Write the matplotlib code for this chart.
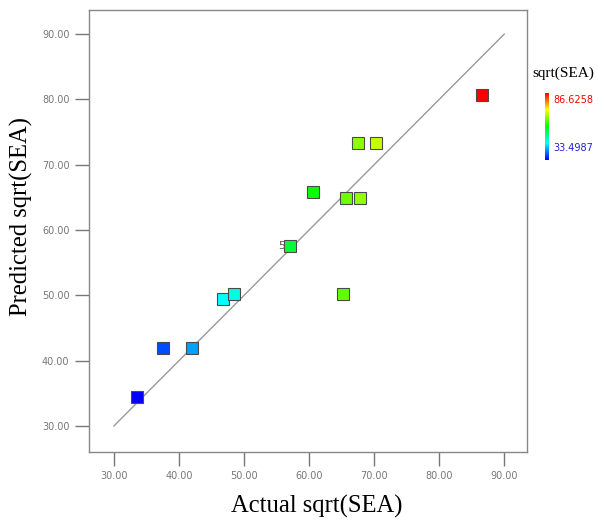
import numpy as np
import matplotlib.pyplot as plt
from matplotlib.colors import LinearSegmentedColormap, Normalize

# Actual vs predicted sqrt(SEA)
actual = [86.63, 67.5, 70.3, 60.6, 65.7, 67.8, 57.1, 65.2, 46.8, 48.5, 42.0, 37.5, 33.50]
predicted = [80.7, 73.3, 73.3, 65.8, 64.9, 64.9, 57.6, 50.2, 49.4, 50.2, 41.9, 41.9, 34.4]
point_labels = {6: "5"}
tick_values = [30, 40, 50, 60, 70, 80, 90]
cbar_min, cbar_max = 33.4987, 86.6258

cmap = LinearSegmentedColormap.from_list("de", ["#0000ff", "#00ffff", "#00ff00", "#ffff00", "#ff0000"])
norm = Normalize(cbar_min, cbar_max)

fig = plt.figure(figsize=(5.98, 5.29), dpi=100)
ax = fig.add_axes([0.1488, 0.1456, 0.7324, 0.8355])

ax.plot([30, 90], [30, 90], color="#999999", lw=1.0, zorder=1)
for i, (a, p) in enumerate(zip(actual, predicted)):
    ax.plot(a, p, marker="s", ms=8, mfc=cmap(norm(a)), mec="#4a4a4a", mew=0.8, ls="none", zorder=3)
    if i in point_labels:
        ax.text(a - 0.8, p, point_labels[i], ha="right", va="center", fontsize=8, color="#555555")

ax.set_xlim(26.15, 93.5)
ax.set_ylim(26.0, 93.7)
ax.set_xticks(tick_values)
ax.set_yticks(tick_values)
ax.set_xticklabels([f"{v:.2f}" for v in tick_values])
ax.set_yticklabels([f"{v:.2f}" for v in tick_values])
ax.tick_params(direction="out", length=10, width=1, color="#777777", labelcolor="#777777",
               labelsize=7, pad=4)
for s in ax.spines.values():
    s.set_color("#888888")
    s.set_linewidth(1.0)

ax.set_xlabel("Actual sqrt(SEA)", family="Liberation Serif", fontsize=17.7)
ax.set_ylabel("Predicted sqrt(SEA)", family="Liberation Serif", fontsize=17.7)
ax.xaxis.set_label_coords(0.52, -0.097)
ax.yaxis.set_label_coords(-0.128, 0.532)

# small colour scale on the right
cax = fig.add_axes([545 / 598, 1 - 160 / 529, 4 / 598, 67 / 529])
grad = np.linspace(0, 1, 256).reshape(-1, 1)
cax.imshow(grad, aspect="auto", cmap=cmap, origin="lower")
cax.set_xticks([])
cax.set_yticks([])
for s in cax.spines.values():
    s.set_visible(False)
fig.text(563 / 598, 1 - 73 / 529, "sqrt(SEA)", family="Liberation Serif", fontsize=11,
         ha="center", va="center")
fig.text(553 / 598, 1 - 100 / 529, f"{cbar_max:.4f}", color="red", fontsize=7, ha="left", va="center")
fig.text(553 / 598, 1 - 148 / 529, f"{cbar_min:.4f}", color="#2222cc", fontsize=7, ha="left", va="center")

fig.savefig("out.png", dpi=100)
